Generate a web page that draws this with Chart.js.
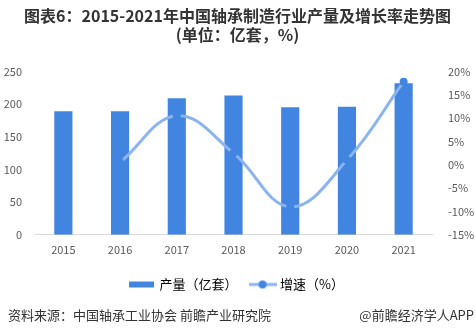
<!DOCTYPE html>
<html>
<head>
<meta charset="utf-8">
<script src="https://cdn.jsdelivr.net/npm/chart.js@4/dist/chart.umd.min.js"></script>
<style>
  html, body { margin: 0; padding: 0; background: #fff; }
  #wrap { width: 475px; height: 335px; position: relative; }
</style>
</head>
<body>
<div id="wrap"><canvas id="c" width="475" height="335"></canvas></div>
<script>
var years = ["2015", "2016", "2017", "2018", "2019", "2020", "2021"];
var output = [189, 189, 209, 213, 195, 196, 232];
var growth = [null, 0.5, 10.5, 2.5, -9, 1, 17.8];
var leftTicks = [0, 50, 100, 150, 200, 250];
var rightTicks = [-15, -10, -5, 0, 5, 10, 15, 20];

var barColor = "#4285E0";
var lineColor = "#8AB4F0";
var fontFam = "'Noto Sans CJK SC', 'Noto Sans', sans-serif";

// legend swatches
function swatch(kind) {
	var cv = document.createElement("canvas");
	cv.width = 28; cv.height = 10;
	var g = cv.getContext("2d");
	if (kind == "bar") {
		g.fillStyle = barColor;
		g.fillRect(1, 2, 25, 6);
	} else {
		g.strokeStyle = lineColor;
		g.lineWidth = 3;
		g.beginPath(); g.moveTo(0, 5); g.lineTo(28, 5); g.stroke();
		g.fillStyle = barColor;
		g.beginPath(); g.arc(14, 5, 4, 0, Math.PI * 2); g.fill();
	}
	return cv;
}

var footer = {
	id: "footer",
	afterDraw: function (chart) {
		var ctx = chart.ctx;
		ctx.save();
		ctx.font = "13px " + fontFam;
		ctx.fillStyle = "#333";
		ctx.textBaseline = "middle";
		ctx.textAlign = "left";
		ctx.fillText("资料来源：中国轴承工业协会 前瞻产业研究院", 8, 315);
		ctx.textAlign = "right";
		ctx.fillText("@前瞻经济学人APP", 474, 315);
		ctx.restore();
	}
};

var ctx = document.getElementById("c");
var chart = new Chart(ctx, {
	data: {
		labels: years,
		datasets: [
			{
				type: "line",
				label: "增速（%）",
				data: growth,
				yAxisID: "y1",
				borderColor: lineColor,
				borderWidth: 3,
				tension: 0.4,
				pointRadius: 4,
				pointBackgroundColor: barColor,
				pointBorderWidth: 0,
				order: 0
			},
			{
				type: "bar",
				label: "产量（亿套）",
				data: output,
				yAxisID: "y",
				backgroundColor: barColor,
				barPercentage: 0.32,
				categoryPercentage: 1,
				order: 1
			}
		]
	},
	options: {
		responsive: false,
		animation: false,
		layout: { padding: { left: 0, right: 0, top: 0, bottom: 34 } },
		plugins: {
			title: {
				display: true,
				text: ["图表6：2015-2021年中国轴承制造行业产量及增长率走势图", "(单位：亿套，%)"],
				color: "#333",
				font: { family: fontFam, size: 16, weight: "bold", lineHeight: 1.2 },
				padding: { top: 6, bottom: 27 }
			},
			legend: {
				position: "bottom",
				labels: {
					usePointStyle: true,
					pointStyleWidth: 22,
					color: "#404040",
					font: { family: fontFam, size: 13 },
					padding: 14,
					generateLabels: function (chart) {
						return [
							{ text: "产量（亿套）", pointStyle: swatch("bar"), fillStyle: barColor, strokeStyle: barColor, lineWidth: 0, datasetIndex: 1 },
							{ text: "增速（%）", pointStyle: swatch("line"), fillStyle: barColor, strokeStyle: lineColor, lineWidth: 0, datasetIndex: 0 }
						];
					}
				}
			},
			tooltip: { enabled: false }
		},
		scales: {
			x: {
				grid: { display: false, drawTicks: false },
				border: { color: "#d9d9d9", width: 1 },
				ticks: { color: "#595959", font: { family: fontFam, size: 11 }, padding: 8 }
			},
			y: {
				position: "left",
				min: 0, max: 250,
				afterBuildTicks: function (s) { s.ticks = leftTicks.map(function (v) { return { value: v }; }); },
				afterFit: function (s) { s.width = 35; },
				grid: { display: false },
				border: { display: false },
				ticks: { color: "#595959", font: { family: fontFam, size: 11 }, padding: 5 }
			},
			y1: {
				position: "right",
				min: -15, max: 20,
				afterBuildTicks: function (s) { s.ticks = rightTicks.map(function (v) { return { value: v }; }); },
				afterFit: function (s) { s.width = 43; },
				grid: { display: false },
				border: { display: false },
				ticks: {
					color: "#595959", font: { family: fontFam, size: 11 }, padding: 8,
					callback: function (v) { return v + "%"; }
				}
			}
		}
	},
	plugins: [footer]
});
</script>
</body>
</html>
